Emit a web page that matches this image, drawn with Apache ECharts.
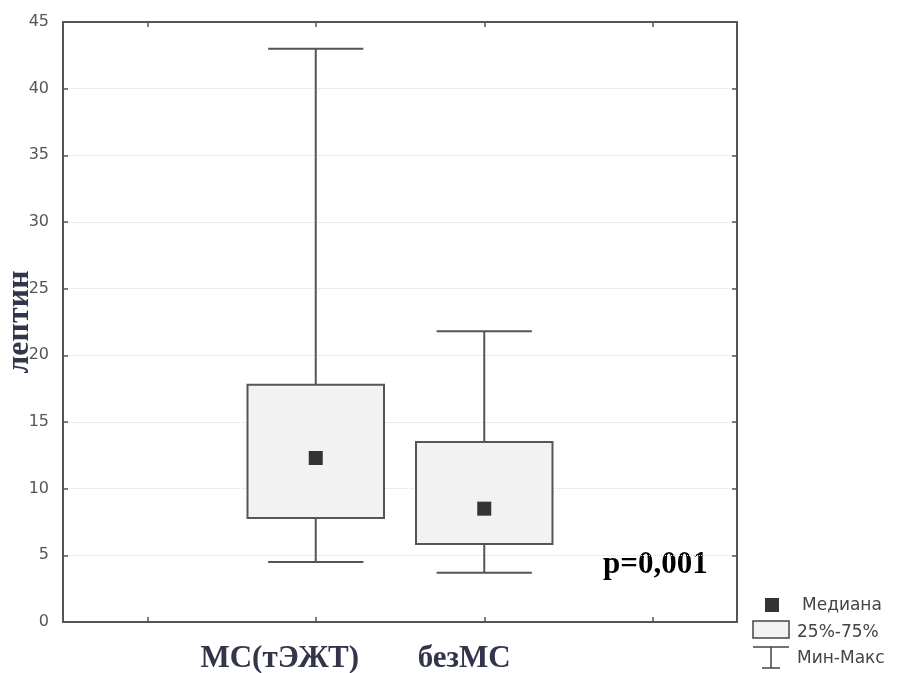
<!DOCTYPE html>
<html>
<head>
<meta charset="utf-8">
<script src="https://cdn.jsdelivr.net/npm/echarts@6/dist/echarts.min.js"></script>
<style>
html, body { margin: 0; padding: 0; background: #fff; }
#chart { width: 901px; height: 673px; }
</style>
</head>
<body>
<div id="chart"></div>
<script>
// axis slots: empty slot, two groups, empty slot
var categories = [' ', 'МС(тЭЖТ)', 'безМС', '  '];
var groupIndex = [1, 2];
var mins    = [4.5, 3.7];
var q1      = [7.8, 5.85];
var medians = [12.3, 8.5];
var q3      = [17.8, 13.5];
var maxs    = [43, 21.8];
var yTicks  = [0, 5, 10, 15, 20, 25, 30, 35, 40, 45];

var myChart = echarts.init(document.getElementById('chart'));

var boxData = [];
var medData = [];
for (var i = 0; i < groupIndex.length; i++) {
    boxData.push([groupIndex[i], mins[i], q1[i], medians[i], q3[i], maxs[i]]);
    medData.push([groupIndex[i], medians[i]]);
}

var lineStyle = { stroke: '#555', lineWidth: 2 };

function renderBox(params, api) {
    var x = api.value(0);
    var pMin = api.coord([x, api.value(1)]);
    var pQ1 = api.coord([x, api.value(2)]);
    var pQ3 = api.coord([x, api.value(4)]);
    var pMax = api.coord([x, api.value(5)]);
    var band = api.size([1, 0])[0];
    var bw = band * 0.81;
    var cw = band * 0.565;
    var cx = pMin[0];
    return {
        type: 'group',
        children: [
            { type: 'line', shape: { x1: cx, y1: pMax[1], x2: cx, y2: pQ3[1] }, style: lineStyle },
            { type: 'line', shape: { x1: cx, y1: pQ1[1], x2: cx, y2: pMin[1] }, style: lineStyle },
            { type: 'line', shape: { x1: cx - cw / 2, y1: pMax[1], x2: cx + cw / 2, y2: pMax[1] }, style: lineStyle },
            { type: 'line', shape: { x1: cx - cw / 2, y1: pMin[1], x2: cx + cw / 2, y2: pMin[1] }, style: lineStyle },
            { type: 'rect', shape: { x: cx - bw / 2, y: pQ3[1], width: bw, height: pQ1[1] - pQ3[1] },
              style: { fill: '#f2f2f2', stroke: '#555', lineWidth: 2 } }
        ]
    };
}

var tickStyle = { show: true, inside: true, length: 5, alignWithLabel: true, interval: 0, lineStyle: { color: '#555', width: 1.5 } };
var yTickStyle = { show: true, inside: true, length: 5, lineStyle: { color: '#555', width: 1.5 } };
var axLine = { show: true, onZero: false, lineStyle: { color: '#555', width: 2 } };
var labelFont = 'DejaVu Sans';

var option = {
    animation: false,
    backgroundColor: '#fff',
    grid: { left: 63, right: 164, top: 22, bottom: 51, outerBoundsMode: 'none', containLabel: false },
    xAxis: [{
        type: 'category',
        data: categories,
        boundaryGap: true,
        axisLine: axLine,
        axisTick: tickStyle,
        splitLine: { show: false },
        axisLabel: {
            interval: 0,
            margin: 21,
            formatter: function (v, idx) {
                if (idx === 1) return '{a|' + v + '}';
                if (idx === 2) return '{b|' + v + '}';
                return '';
            },
            rich: {
                a: { fontFamily: 'Liberation Serif', fontWeight: 'bold', fontSize: 31, lineHeight: 31, color: '#33364a', padding: [0, 72, 0, 0] },
                b: { fontFamily: 'Liberation Serif', fontWeight: 'bold', fontSize: 31, lineHeight: 31, color: '#33364a', padding: [0, 40, 0, 0] }
            }
        }
    }, {
        type: 'category',
        position: 'top',
        data: categories,
        boundaryGap: true,
        axisLine: axLine,
        axisTick: tickStyle,
        axisLabel: { show: true, interval: 0, formatter: function () { return ''; } }
    }],
    yAxis: [{
        type: 'value',
        min: yTicks[0],
        max: yTicks[yTicks.length - 1],
        interval: 5,
        name: 'лептин',
        nameLocation: 'middle',
        nameRotate: 90,
        nameGap: 27,
        nameMoveOverlap: false,
        nameTextStyle: { fontFamily: 'Liberation Serif', fontWeight: 700, fontSize: 32, color: '#33364a' },
        axisLine: axLine,
        axisTick: yTickStyle,
        axisLabel: { margin: 14, fontFamily: labelFont, fontSize: 16, color: '#555' },
        splitLine: { show: true, lineStyle: { color: '#ddd', type: 'dotted', width: 1 } }
    }, {
        type: 'value',
        position: 'right',
        min: yTicks[0],
        max: yTicks[yTicks.length - 1],
        interval: 5,
        axisLine: axLine,
        axisTick: yTickStyle,
        axisLabel: { show: false },
        splitLine: { show: false }
    }],
    series: [{
        type: 'custom',
        name: '25%-75%',
        renderItem: renderBox,
        encode: { x: 0, y: [1, 2, 3, 4, 5] },
        data: boxData,
        z: 2
    }, {
        type: 'scatter',
        name: 'Медиана',
        symbol: 'rect',
        symbolSize: 14,
        itemStyle: { color: '#333', opacity: 1 },
        data: medData,
        z: 3
    }],
    graphic: [
        { type: 'text', left: 603, top: 549,
          style: { text: 'p=0,001', font: 'bold 31px "Liberation Serif"', fill: '#000' } },
        // legend
        { type: 'rect', shape: { x: 765, y: 598, width: 14, height: 14 }, style: { fill: '#333' } },
        { type: 'text', x: 802, y: 606, style: { text: 'Медиана', font: '17px "DejaVu Sans"', fill: '#444', verticalAlign: 'middle' } },
        { type: 'rect', shape: { x: 753, y: 621, width: 36, height: 17 }, style: { fill: '#f2f2f2', stroke: '#444', lineWidth: 1.5 } },
        { type: 'text', x: 797, y: 633, style: { text: '25%-75%', font: '17px "DejaVu Sans"', fill: '#444', verticalAlign: 'middle' } },
        { type: 'line', shape: { x1: 753, y1: 647, x2: 789, y2: 647 }, style: { stroke: '#444', lineWidth: 1.5 } },
        { type: 'line', shape: { x1: 771, y1: 647, x2: 771, y2: 668 }, style: { stroke: '#444', lineWidth: 1.5 } },
        { type: 'line', shape: { x1: 762, y1: 668, x2: 780, y2: 668 }, style: { stroke: '#444', lineWidth: 1.5 } },
        { type: 'text', x: 797, y: 659, style: { text: 'Мин-Макс', font: '17px "DejaVu Sans"', fill: '#444', verticalAlign: 'middle' } }
    ]
};

myChart.setOption(option);
</script>
</body>
</html>
